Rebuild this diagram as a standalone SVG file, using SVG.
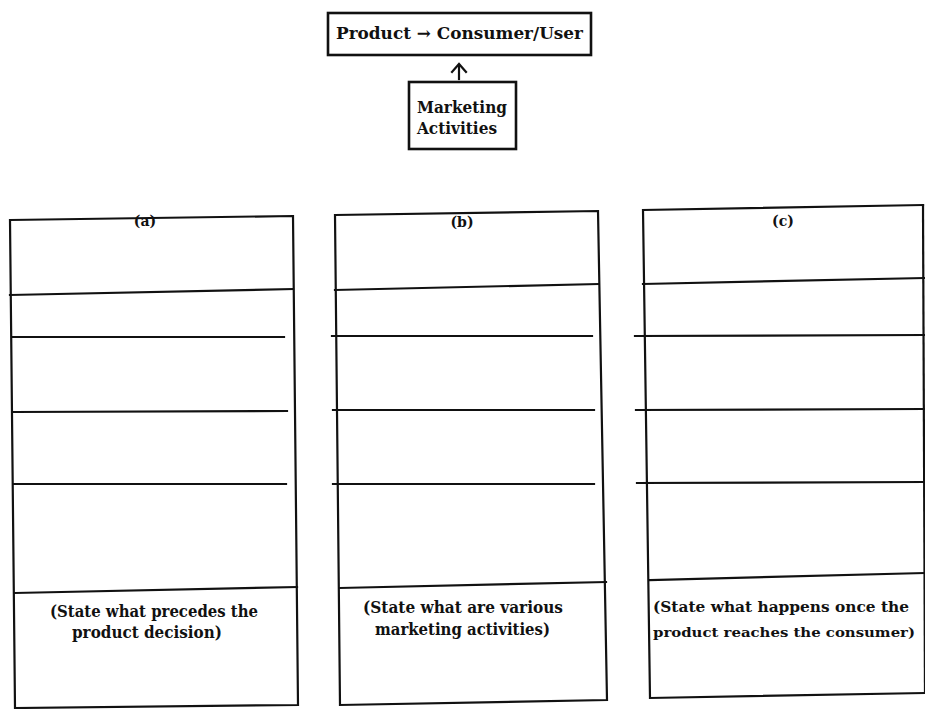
<svg xmlns="http://www.w3.org/2000/svg" width="925" height="709" viewBox="0 0 925 709">
<style>
.ln{fill:none;stroke:#111;stroke-width:2.2;stroke-linecap:square}
.t{font-family:"DejaVu Serif","Liberation Serif",serif;font-weight:bold;font-size:16px;fill:#111}
.lb{font-family:"DejaVu Serif","Liberation Serif",serif;font-weight:bold;font-size:14px;fill:#111;text-anchor:middle}
</style>
<rect width="925" height="709" fill="#fff"/>
<g id="product-box">
<rect class="ln" x="328" y="13" width="263" height="42" style="stroke-width:2.6"/>
<text class="t" x="336" y="39" style="font-size:17px" textLength="247" lengthAdjust="spacingAndGlyphs">Product → Consumer/User</text>
</g>
<g id="marketing-box">
<rect class="ln" x="409" y="82" width="107" height="67" style="stroke-width:2.6"/>
<text class="t" x="417" y="113" style="font-size:17px" textLength="90" lengthAdjust="spacingAndGlyphs">Marketing</text>
<text class="t" x="417" y="134" style="font-size:17px" textLength="80" lengthAdjust="spacingAndGlyphs">Activities</text>
</g>
<g id="connectors">
<line class="ln" x1="459" y1="79" x2="459" y2="65"/>
<polyline class="ln" points="452,72 459,64 466,72"/>
</g>
<g id="column-a">
<polygon class="ln" points="10,220 293,216 298,705 15,708"/>
<line class="ln" x1="10" y1="295" x2="293" y2="289"/>
<line class="ln" x1="13" y1="337" x2="284" y2="337"/>
<line class="ln" x1="14" y1="412" x2="287" y2="411"/>
<line class="ln" x1="14" y1="484" x2="286" y2="484"/>
<line class="ln" x1="15" y1="593" x2="297" y2="587"/>
<text class="lb" x="145" y="226">(a)</text>
<text class="t" x="50" y="617" textLength="208" lengthAdjust="spacingAndGlyphs">(State what precedes the</text>
<text class="t" x="72" y="638" textLength="150" lengthAdjust="spacingAndGlyphs">product decision)</text>
</g>
<g id="column-b">
<polygon class="ln" points="335,215 598,211 607,700 340,705"/>
<line class="ln" x1="335" y1="290" x2="598" y2="284"/>
<line class="ln" x1="332" y1="336" x2="592" y2="336"/>
<line class="ln" x1="333" y1="410" x2="594" y2="410"/>
<line class="ln" x1="333" y1="484" x2="594" y2="484"/>
<line class="ln" x1="340" y1="588" x2="606" y2="582"/>
<text class="lb" x="462" y="227">(b)</text>
<text class="t" x="363" y="613" textLength="200" lengthAdjust="spacingAndGlyphs">(State what are various</text>
<text class="t" x="375" y="635" textLength="175" lengthAdjust="spacingAndGlyphs">marketing activities)</text>
</g>
<g id="column-c">
<polyline class="ln" points="923,205 643,210 650,698 925,693"/>
<line class="ln" x1="923" y1="205" x2="925" y2="693"/>
<line class="ln" x1="643" y1="284" x2="925" y2="278"/>
<line class="ln" x1="635" y1="336" x2="925" y2="335"/>
<line class="ln" x1="636" y1="410" x2="925" y2="409"/>
<line class="ln" x1="637" y1="483" x2="925" y2="482"/>
<line class="ln" x1="650" y1="580" x2="925" y2="573"/>
<text class="lb" x="783" y="226">(c)</text>
<text class="t" x="653" y="612" style="font-size:14px" textLength="256" lengthAdjust="spacingAndGlyphs">(State what happens once the</text>
<text class="t" x="653" y="637" style="font-size:13.5px" textLength="262" lengthAdjust="spacingAndGlyphs">product reaches the consumer)</text>
</g>
</svg>
